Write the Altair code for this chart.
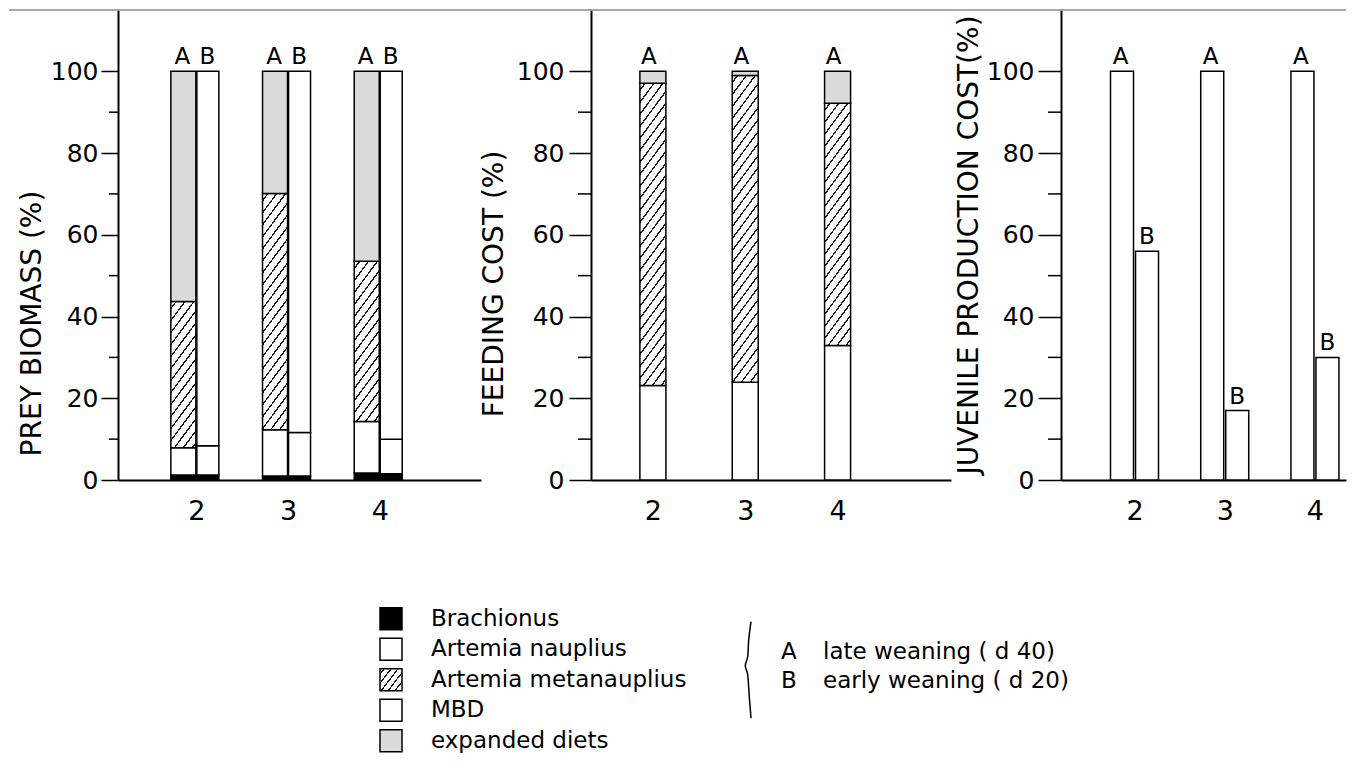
import altair as alt
import pandas as pd

FONT = "DejaVu Sans"

# ---------------- data ----------------
days = [2, 3, 4]

# Panel 1: prey biomass (%)  -- A = late weaning, B = early weaning
pb_A_brach = [1.2, 1.0, 1.7]
pb_A_naup = [6.7, 11.3, 12.6]
pb_A_meta = [35.8, 57.8, 39.2]
pb_A_exp = [56.3, 29.9, 46.5]
pb_B_brach = [1.2, 1.0, 1.5]
pb_B_naup = [7.2, 10.6, 8.5]
pb_B_mbd = [91.6, 88.4, 90.0]

# Panel 2: feeding cost (%) -- A only
fc_A_naup = [23.1, 23.9, 32.9]
fc_A_meta = [74.0, 75.1, 59.3]
fc_A_exp = [2.9, 1.0, 7.8]

# Panel 3: juvenile production cost (%)
jp_A = [100, 100, 100]
jp_B = [56, 17, 30]

comp_keys = ["brach", "naup", "meta", "mbd", "exp"]
comp_labels = ["Brachionus", "Artemia nauplius", "Artemia metanauplius", "MBD", "expanded diets"]
wean_keys = ["A", "B"]
wean_labels = ["late weaning ( d 40)", "early weaning ( d 20)"]

# ---------------- styling helpers ----------------
H = 470
YMAX = 115
PX_PER_UNIT = H / YMAX
GRAY = "#dadada"
INK = "#1a1a1a"


def hatch_fill(w, h, slope=1.35, gap=12.0, lw=2.2):
    """Diagonal '/' hatching as a striped linear gradient over a w x h box."""
    L = slope * w + h
    k = L / (slope ** 2 * w ** 2 + h ** 2)
    stops = [{"offset": 0, "color": "white"}]
    c = gap * 0.6
    while c - lw / 2 < L:
        o1 = round(max(0.0, (c - lw / 2) / L), 5)
        o2 = round(min(1.0, (c + lw / 2) / L), 5)
        stops += [
            {"offset": o1, "color": "white"},
            {"offset": o1, "color": INK},
            {"offset": o2, "color": INK},
            {"offset": o2, "color": "white"},
        ]
        c += gap
    stops.append({"offset": 1, "color": "white"})
    return {"gradient": "linear", "x1": 0, "y1": 0,
            "x2": round(slope * w * k, 5), "y2": round(h * k, 5), "stops": stops}


def long_rows(wean, parts):
    out = []
    for key, vals in parts.items():
        for d, v in zip(days, vals):
            out.append({"day": d, "wean": wean, "comp": key,
                        "ord": comp_keys.index(key), "val": v})
    return out


df1 = pd.DataFrame(
    long_rows("A", {"brach": pb_A_brach, "naup": pb_A_naup, "meta": pb_A_meta, "exp": pb_A_exp})
    + long_rows("B", {"brach": pb_B_brach, "naup": pb_B_naup, "mbd": pb_B_mbd})
)
df2 = pd.DataFrame(long_rows("A", {"naup": fc_A_naup, "meta": fc_A_meta, "exp": fc_A_exp}))
df3 = pd.DataFrame(
    [{"day": d, "wean": "A", "val": v} for d, v in zip(days, jp_A)]
    + [{"day": d, "wean": "B", "val": v} for d, v in zip(days, jp_B)]
)
minor_df = pd.DataFrame({"val": [10, 30, 50, 70, 90]})


def fill_conditions(meta_vals, bar_w):
    conds = [{"test": "datum.comp === 'brach'", "value": "black"},
             {"test": "datum.comp === 'exp'", "value": GRAY}]
    for d, v in zip(days, meta_vals):
        conds.append({"test": f"datum.comp === 'meta' && datum.day === {d}",
                      "value": hatch_fill(bar_w, v * PX_PER_UNIT)})
    return alt.value("white", condition=conds)


def x_enc(domain):
    return alt.X("day:Q", scale=alt.Scale(domain=domain, nice=False, zero=False),
                 axis=alt.Axis(values=days, format="d", ticks=False, tickSize=0,
                               labelPadding=18, labelFontSize=27, labelColor="black",
                               labelFont=FONT, title=None, grid=False,
                               domainColor="black", domainWidth=2, labelFlush=False))


def y_enc(title, tick, pad, tx, ty, stack=None):
    kw = {}
    if stack is not None:
        kw["stack"] = stack
    return alt.Y("val:Q", scale=alt.Scale(domain=[0, YMAX], nice=False),
                 axis=alt.Axis(values=[0, 20, 40, 60, 80, 100], format="d", tickSize=tick,
                               tickWidth=1.5, tickColor="black", labelPadding=pad,
                               labelFontSize=25, labelColor="black", labelFont=FONT,
                               grid=False, domainColor="black", domainWidth=2,
                               title=title, titleX=tx, titleY=ty, titleAngle=270,
                               titleAlign="center", titleBaseline="middle",
                               titleFontSize=28, titleFontWeight="normal",
                               titleColor="black", titleFont=FONT, labelOverlap=False),
                 **kw)


def minor_ticks(y, length):
    return alt.Chart(minor_df).mark_rule(color="black", strokeWidth=1.5).encode(
        y=y, x=alt.value(-length), x2=alt.value(0))


def top_rule(x0, x1):
    return alt.Chart(minor_df.head(1)).mark_rule(color="#8c8c8c", strokeWidth=1.5).encode(
        x=alt.value(x0), x2=alt.value(x1), y=alt.value(0))


# ---------------- panel 1 ----------------
W1 = 363
X1 = x_enc([1.2, 5.05])
Y1 = y_enc("PREY BIOMASS (%)", 17, 3, -86, 313, stack="zero")
Y1n = y_enc("PREY BIOMASS (%)", 17, 3, -86, 313)

p1_A = alt.Chart(df1).transform_filter(alt.datum.wean == "A").mark_bar(
    width=25, xOffset=-13, stroke="black", strokeWidth=1.5).encode(
    x=X1, y=Y1, order=alt.Order("ord:Q", sort="ascending"),
    fill=fill_conditions(pb_A_meta, 25))
p1_B = alt.Chart(df1).transform_filter(alt.datum.wean == "B").mark_bar(
    width=22, xOffset=11.5, stroke="black", strokeWidth=1.5).encode(
    x=X1, y=Y1, order=alt.Order("ord:Q", sort="ascending"),
    fill=fill_conditions(pb_A_meta, 22))


def stack_labels(df, wean, dx, x, y):
    return alt.Chart(df).transform_filter(alt.datum.wean == wean).transform_aggregate(
        val="sum(val)", groupby=["day", "wean"]).mark_text(
        fontSize=23, baseline="alphabetic", dy=-7, dx=dx, color="black").encode(
        x=x, y=y, text="wean:N")


panel1 = alt.layer(
    top_rule(-109, W1 + 110), minor_ticks(Y1n, 9), p1_A, p1_B,
    stack_labels(df1, "A", -14, X1, Y1n), stack_labels(df1, "B", 11, X1, Y1n)
).properties(width=W1, height=H)

# ---------------- panel 2 ----------------
W2 = 360
X2 = x_enc([1.384, 5.174])
Y2 = y_enc("FEEDING COST (%)", 22, 5, -97, 273.5, stack="zero")
Y2n = y_enc("FEEDING COST (%)", 22, 5, -97, 273.5)
p2_A = alt.Chart(df2).mark_bar(width=26, stroke="black", strokeWidth=1.5).encode(
    x=X2, y=Y2, order=alt.Order("ord:Q", sort="ascending"),
    fill=fill_conditions(fc_A_meta, 26))
panel2 = alt.layer(
    top_rule(0, W2 + 110), minor_ticks(Y2n, 13), p2_A,
    stack_labels(df2, "A", -4, X2, Y2n)
).properties(width=W2, height=H)

# ---------------- panel 3 ----------------
W3 = 285
X3 = x_enc([1.2406, 1.2406 + W3 / 93.5])
Y3 = y_enc("JUVENILE PRODUCTION COST(%)", 23, 4, -92, 234.5)


def jp_bars(wean, off):
    return alt.Chart(df3).transform_filter(alt.datum.wean == wean).mark_bar(
        width=23, xOffset=off, stroke="black", strokeWidth=1.5, fill="white").encode(
        x=X3, y=Y3)


def jp_labels(wean, off):
    return alt.Chart(df3).transform_filter(alt.datum.wean == wean).mark_text(
        fontSize=23, baseline="alphabetic", dy=-7, dx=off, color="black").encode(
        x=X3, y=Y3, text="wean:N")


panel3 = alt.layer(
    top_rule(0, W3), minor_ticks(Y3, 13), jp_bars("A", -12.5), jp_bars("B", 12.5),
    jp_labels("A", -14), jp_labels("B", 12.5)
).properties(width=W3, height=H)

top = alt.hconcat(panel1, panel2, panel3, spacing=110, bounds="flush")

# ---------------- legend ----------------
LEG_W = 800
LEG_H = 145.5
leg_y = alt.Scale(domain=[-0.42, 4.35], nice=False, zero=False, reverse=True)
leg_df = pd.DataFrame({"comp": comp_keys, "label": comp_labels, "row": list(range(len(comp_keys)))})
leg_conds = alt.value("white", condition=[
    {"test": "datum.comp === 'brach'", "value": "black"},
    {"test": "datum.comp === 'exp'", "value": GRAY},
    {"test": "datum.comp === 'meta'", "value": hatch_fill(22, 22, slope=1.3, gap=9.0, lw=2.0)},
])
leg_squares = alt.Chart(leg_df).mark_square(size=484, stroke="black", strokeWidth=1.5,
                                            opacity=1).encode(
    x=alt.value(273), y=alt.Y("row:Q", scale=leg_y, axis=None), fill=leg_conds)
leg_text = alt.Chart(leg_df).mark_text(align="left", baseline="middle", fontSize=23,
                                       color="black").encode(
    x=alt.value(313), y=alt.Y("row:Q", scale=leg_y, axis=None), text="label:N")

ab_df = pd.DataFrame({"key": wean_keys, "desc": wean_labels, "row": [1.1, 2.05]})
ab_key = alt.Chart(ab_df).mark_text(align="left", baseline="middle", fontSize=23,
                                    color="black").encode(
    x=alt.value(663), y=alt.Y("row:Q", scale=leg_y, axis=None), text="key:N")
ab_desc = alt.Chart(ab_df).mark_text(align="left", baseline="middle", fontSize=23,
                                     color="black").encode(
    x=alt.value(705), y=alt.Y("row:Q", scale=leg_y, axis=None), text="desc:N")

# brace shape (legend decoration, in legend layout units)
brace_df = pd.DataFrame({
    "bx": [633, 630.7, 629.7, 627.3, 629.7, 631.3, 633],
    "by": [0.09, 0.69, 1.24, 1.54, 1.84, 2.55, 3.26],
    "i": list(range(7)),
})
brace = alt.Chart(brace_df).mark_line(color="black", strokeWidth=1.5,
                                      interpolate="cardinal").encode(
    x=alt.X("bx:Q", scale=alt.Scale(domain=[0, LEG_W], nice=False, zero=True), axis=None),
    y=alt.Y("by:Q", scale=leg_y, axis=None), order="i:Q")

legend = alt.layer(leg_squares, leg_text, brace, ab_key, ab_desc).properties(
    width=LEG_W, height=LEG_H)

# with flush bounds the nested row of panels contributes no height, so the
# spacing includes the panel height (470) plus the gap below the panels
chart = alt.vconcat(top, legend, spacing=H + 126, bounds="flush").properties(
    padding={"top": 1, "left": 0, "right": 0, "bottom": 0},
    background="white",
).configure(font=FONT).configure_view(stroke=None)

chart.save("out.html", embed_options={"renderer": "svg", "actions": False})
